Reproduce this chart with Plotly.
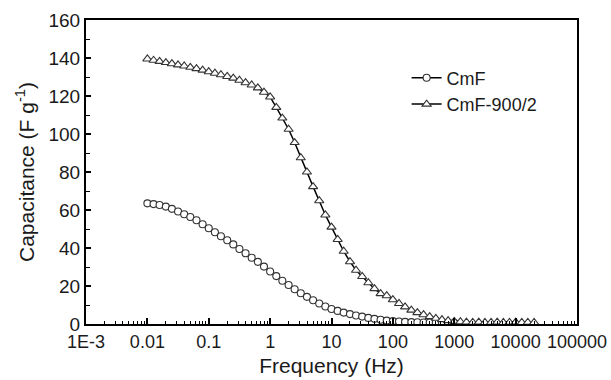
import plotly.graph_objects as go

# Frequencies (Hz), 10 points per decade
freq_cmf = [0.01, 0.0126, 0.0158, 0.02, 0.0251, 0.0316, 0.0398, 0.0501, 0.0631, 0.0794,
            0.1, 0.126, 0.158, 0.2, 0.251, 0.316, 0.398, 0.501, 0.631, 0.794,
            1, 1.26, 1.58, 2, 2.51, 3.16, 3.98, 5.01, 6.31, 7.94,
            10, 12.6, 15.8, 20, 25.1, 31.6, 39.8, 50.1, 63.1, 79.4,
            100, 126, 158, 200, 251, 316, 398, 501, 631, 794, 1000]
cap_cmf = [63.5, 63.1, 62.6, 61.8, 60.6, 59.2, 57.8, 56.3, 54.6, 52.5,
           50.4, 48.3, 46.2, 44.1, 41.9, 39.5, 37.2, 34.9, 32.7, 30.2,
           27.6, 25.2, 22.8, 20.5, 18.3, 16.2, 14.3, 12.5, 10.8, 9.2,
           7.9, 6.9, 6.0, 5.2, 4.5, 3.9, 3.2, 2.7, 2.2, 1.8,
           1.5, 1.3, 1.1, 1.0, 0.9, 0.8, 0.8, 0.7, 0.7, 0.6, 0.6]

freq_900 = [0.01, 0.0126, 0.0158, 0.02, 0.0251, 0.0316, 0.0398, 0.0501, 0.0631, 0.0794,
            0.1, 0.126, 0.158, 0.2, 0.251, 0.316, 0.398, 0.501, 0.631, 0.794,
            1, 1.26, 1.58, 2, 2.51, 3.16, 3.98, 5.01, 6.31, 7.94,
            10, 12.6, 15.8, 20, 25.1, 31.6, 39.8, 50.1, 63.1, 79.4,
            100, 126, 158, 200, 251, 316, 398, 501, 631, 794,
            1000, 1260, 1580, 2000, 2510, 3160, 3980, 5010, 6310, 7940,
            10000, 12600, 15800, 20000]
cap_900 = [139.5, 138.8, 138.2, 137.6, 137.0, 136.4, 135.8, 135.1, 134.4, 133.6,
           132.8, 132.0, 131.2, 130.3, 129.4, 128.3, 127.0, 125.8, 124.3, 122.0,
           119.5, 114.0, 108.4, 102.5, 95.5, 87.5, 80.0, 72.3, 64.9, 57.4,
           51.0, 44.5, 38.3, 32.8, 28.3, 25.0, 21.7, 18.6, 16.0, 14.9,
           12.8, 10.8, 9.0, 7.3, 6.0, 4.9, 3.9, 3.0, 2.3, 1.8,
           1.4, 1.2, 1.0, 0.9, 1.0, 0.8, 0.9, 1.0, 0.8, 0.9,
           1.0, 0.8, 0.9, 0.8]

x_tick_vals = [1e-3, 1e-2, 1e-1, 1, 10, 100, 1000, 10000, 100000]
x_tick_text = ["1E-3", "0.01", "0.1", "1", "10", "100", "1000", "10000", "100000"]
x_minor_vals = [m * 10.0 ** e for e in range(-3, 5) for m in range(2, 10)]

FONT = "Liberation Sans"

fig = go.Figure()
fig.add_trace(go.Scatter(
    x=freq_cmf, y=cap_cmf, name="CmF", mode="lines+markers",
    line=dict(color="black", width=1.5),
    marker=dict(symbol="circle", size=7, color="white",
                line=dict(color="#333333", width=1.1)),
))
fig.add_trace(go.Scatter(
    x=freq_900, y=cap_900, name="CmF-900/2", mode="lines+markers",
    line=dict(color="black", width=1.5),
    marker=dict(symbol="triangle-up", size=8, color="white",
                line=dict(color="#333333", width=1.1)),
))

fig.update_layout(
    width=611, height=380,
    margin=dict(l=86, r=34, t=20, b=56),
    paper_bgcolor="white", plot_bgcolor="white",
    font=dict(family=FONT, size=18, color="#1a1a1a"),
    showlegend=True,
    legend=dict(x=0.653, y=0.87, xanchor="left", yanchor="top",
                bgcolor="rgba(0,0,0,0)", borderwidth=0,
                font=dict(family=FONT, size=18)),
)
fig.update_xaxes(
    type="log", range=[-3, 5], automargin=False,
    tickmode="array", tickvals=x_tick_vals, ticktext=x_tick_text,
    tickfont=dict(family=FONT, size=18),
    ticks="inside", ticklen=6, tickwidth=1.5, tickcolor="black",
    ticklabelstandoff=0,
    minor=dict(tickmode="array", tickvals=x_minor_vals, ticks="inside",
               ticklen=3, tickwidth=1.2, tickcolor="black", showgrid=False),
    showline=True, linewidth=2, linecolor="black", mirror=True,
    showgrid=False, zeroline=False,
    title=dict(text="Frequency (Hz)", font=dict(family=FONT, size=21), standoff=8),
)
fig.update_yaxes(
    range=[0, 160], dtick=20, tick0=0, automargin=False,
    tickfont=dict(family=FONT, size=19),
    ticks="inside", ticklen=5, tickwidth=1.5, tickcolor="black",
    minor=dict(dtick=10, ticks="inside", ticklen=4, tickwidth=1.2,
               tickcolor="black", showgrid=False),
    showline=True, linewidth=2, linecolor="black", mirror=True,
    showgrid=False, zeroline=False,
    title=dict(text="Capacitance (F g<sup>-1</sup>)", font=dict(family=FONT, size=21), standoff=8),
)

fig.write_html("out.html", config={"displayModeBar": False},
               post_script="document.body.style.margin='0';")
